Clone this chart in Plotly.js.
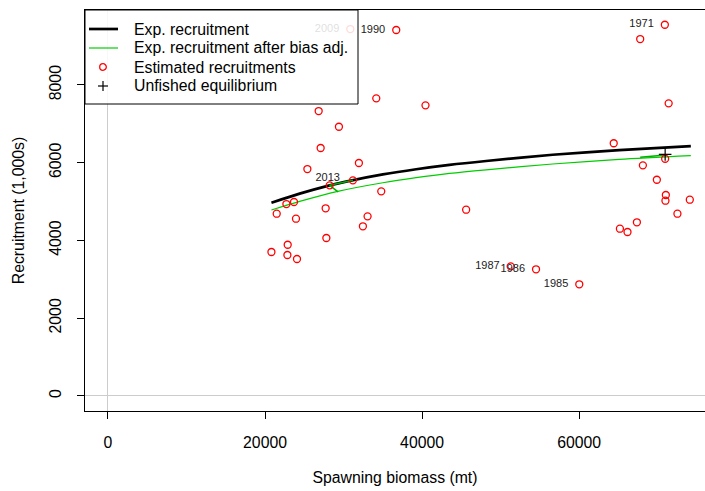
<!DOCTYPE html>
<html>
<head>
<meta charset="utf-8">
<script src="https://cdn.plot.ly/plotly-3.0.1.min.js"></script>
<style>html,body{margin:0;padding:0;background:#fff;}#chart{width:705px;height:491px;}</style>
</head>
<body>
<div id="chart"></div>
<script>
// Estimated recruitments (spawning biomass mt, recruitment 1000s)
const ptSB = [30860,36708,70912,67771,34165,40434,26829,71395,29410,64401,27083,31953,25392,28227,31190,34801,22722,23688,21488,27719,23942,33059,32462,27808,22887,20815,22849,24070,45609,70950,68114,69894,71039,70988,74090,72513,67351,65189,66156,51280,54509,60015];
const ptRec = [9439,9414,9550,9182,7657,7477,7330,7528,6926,6502,6379,5993,5838,5419,5548,5265,4938,4990,4689,4828,4560,4622,4365,4064,3891,3704,3627,3524,4792,6103,5934,5563,5170,5023,5049,4689,4468,4303,4218,3336,3259,2873];
// labelled years (index into point arrays)
const labelIndex = [0,1,2,39,40,41];
const labelYears = ['2009','1990','1971','1987','1986','1985'];
const lastIndex = 13;
const lastYear = '2013';
// Expected recruitment curves
const curveSB = [20815,24413,28227,30770,35005,39250,43485,48150,56620,65100,74220];
const expRec = [4972,5205,5419,5535,5700,5833,5945,6045,6205,6325,6430];
const biasSB = [20815,24413,29410,35005,39250,43485,48150,56620,65100,74220];
const biasRec = [4784,5005,5270,5486,5615,5724,5818,5968,6086,6181];
// small green connecting paths
const pathSB = [29300,28227,31190,null,67771,71000];
const pathRec = [5250,5419,5548,null,6140,6200];
// Unfished equilibrium
const virgSB = [70950];
const virgRec = [6215];
// ticks
const xTicks = [0,20000,40000,60000];
const yTicks = [0,2000,4000,6000,8000];
// legend
const legendLabels = ['Exp. recruitment','Exp. recruitment after bias adj.','Estimated recruitments','Unfished equilibrium'];

const FONT = 'Liberation Sans, Arial, Helvetica, sans-serif';
const FS = 15.8;

const traces = [
  {x: curveSB, y: expRec, mode: 'lines',
   line: {color: '#000000', width: 2.7, shape: 'spline', smoothing: 0.8}},
  {x: biasSB, y: biasRec, mode: 'lines',
   line: {color: '#00cd00', width: 1.2, shape: 'spline', smoothing: 0.8}},
  {x: pathSB, y: pathRec, mode: 'lines',
   line: {color: '#00b000', width: 1.6}},
  {x: ptSB, y: ptRec, mode: 'markers',
   marker: {symbol: 'circle-open', size: 7, color: '#ff0000', line: {width: 1.3, color: '#ff0000'}}},
  {x: virgSB, y: virgRec, mode: 'markers',
   marker: {symbol: 'cross-thin-open', size: 9, color: '#000000', line: {width: 1.2, color: '#000000'}}},
  {x: labelIndex.map(i => ptSB[i]), y: labelIndex.map(i => ptRec[i]), text: labelYears,
   mode: 'markers+text', textposition: 'middle left',
   marker: {size: 16, color: 'rgba(0,0,0,0)'},
   textfont: {family: FONT, size: 11, color: '#222222'}},
  {x: [ptSB[lastIndex] - 250], y: [ptRec[lastIndex]], text: [lastYear],
   mode: 'markers+text', textposition: 'top center',
   marker: {size: 1, color: 'rgba(0,0,0,0)'},
   textfont: {family: FONT, size: 11, color: '#222222'}}
];

// manual legend (R style box with semi-transparent white background)
const PW = 620, PH = 401;
const px = v => v / PW, py = v => 1 - v / PH;
const rowY = [19, 38, 57, 76];
const shapes = [
  {type: 'rect', xref: 'paper', yref: 'paper', x0: 0, x1: px(273), y0: py(94), y1: 1,
   fillcolor: 'rgba(255,255,255,0.86)', line: {color: '#000000', width: 1}, layer: 'above'},
  {type: 'line', xref: 'paper', yref: 'paper', x0: px(4), x1: px(33), y0: py(rowY[0]), y1: py(rowY[0]),
   line: {color: '#000000', width: 2.7}, layer: 'above'},
  {type: 'line', xref: 'paper', yref: 'paper', x0: px(4), x1: px(33), y0: py(rowY[1]), y1: py(rowY[1]),
   line: {color: '#00cd00', width: 1.2}, layer: 'above'},
  {type: 'circle', xref: 'paper', yref: 'paper', xsizemode: 'pixel', ysizemode: 'pixel',
   xanchor: px(18), yanchor: py(rowY[2]), x0: -3.3, x1: 3.3, y0: -3.3, y1: 3.3,
   line: {color: '#ff0000', width: 1.3}, layer: 'above'},
  {type: 'line', xref: 'paper', yref: 'paper', xsizemode: 'pixel', ysizemode: 'pixel',
   xanchor: px(18), yanchor: py(rowY[3]), x0: -5, x1: 5, y0: 0, y1: 0,
   line: {color: '#000000', width: 1.2}, layer: 'above'},
  {type: 'line', xref: 'paper', yref: 'paper', xsizemode: 'pixel', ysizemode: 'pixel',
   xanchor: px(18), yanchor: py(rowY[3]), x0: 0, x1: 0, y0: -5, y1: 5,
   line: {color: '#000000', width: 1.2}, layer: 'above'}
];
const annotations = legendLabels.map((t, i) => ({
  text: t, xref: 'paper', yref: 'paper', x: px(47), y: py(rowY[i]),
  xanchor: 'left', yanchor: 'middle', showarrow: false,
  font: {family: FONT, size: FS, color: '#000000'}
}));

const layout = {
  width: 705, height: 491,
  margin: {l: 85, r: 0, t: 10, b: 80},
  paper_bgcolor: '#ffffff', plot_bgcolor: '#ffffff',
  font: {family: FONT, size: FS, color: '#000000'},
  showlegend: false,
  shapes: shapes,
  annotations: annotations,
  xaxis: {range: [-2924, 76024], tickvals: xTicks, ticktext: xTicks.map(String),
    showgrid: false, zeroline: true, zerolinecolor: '#cccccc', zerolinewidth: 1,
    showline: true, linecolor: '#000000', linewidth: 1, mirror: true,
    ticks: 'outside', ticklen: 7, tickcolor: '#000000', ticklabelstandoff: 10,
    title: {text: 'Spawning biomass (mt)', font: {family: FONT, size: FS}, standoff: 21}},
  yaxis: {range: [-386, 9929], tickvals: yTicks, ticktext: yTicks.map(String),
    showgrid: false, zeroline: true, zerolinecolor: '#cccccc', zerolinewidth: 1,
    showline: true, linecolor: '#000000', linewidth: 1, mirror: true,
    ticks: 'outside', ticklen: 7, tickcolor: '#000000', tickangle: -90, ticklabelstandoff: 10,
    title: {text: 'Recruitment (1,000s)', font: {family: FONT, size: FS}, standoff: 18}}
};

Plotly.newPlot('chart', traces, layout, {staticPlot: true, displayModeBar: false});
</script>
</body>
</html>
